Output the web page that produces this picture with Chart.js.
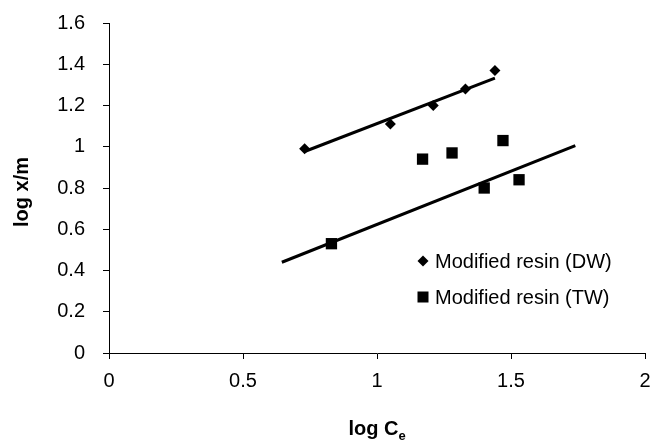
<!DOCTYPE html>
<html>
<head>
<meta charset="utf-8">
<script src="https://cdn.jsdelivr.net/npm/chart.js@4/dist/chart.umd.min.js"></script>
<style>
  html, body { margin: 0; padding: 0; background: #fff; }
  #wrap { width: 653px; height: 448px; position: relative; }
</style>
</head>
<body>
<div id="wrap"><canvas id="chart" width="653" height="448"></canvas></div>
<script>
// Values
const dwX = [0.73, 1.05, 1.21, 1.33, 1.44];
const dwY = [0.99, 1.11, 1.20, 1.28, 1.37];
const twX = [0.83, 1.17, 1.28, 1.40, 1.47, 1.53];
const twY = [0.53, 0.94, 0.97, 0.80, 1.03, 0.84];

// trend line end points
const dwFitX = [0.73, 1.44];
const dwFitY = [0.977, 1.333];
const twFitX = [0.645, 1.74];
const twFitY = [0.44, 1.005];

const xTicks = [0, 0.5, 1, 1.5, 2];
const yTicks = [0, 0.2, 0.4, 0.6, 0.8, 1, 1.2, 1.4, 1.6];

const seriesNames = ["Modified resin (DW)", "Modified resin (TW)"];

const FONT = "'Liberation Sans', Arial, sans-serif";

function toPoints(xs, ys) {
    return xs.map((x, i) => ({ x: x, y: ys[i] }));
}

// Legend sits inside the plot area, like the original
const legendPlugin = {
    id: "innerLegend",
    afterDatasetsDraw(chart) {
        const ctx = chart.ctx;
        ctx.save();
        ctx.fillStyle = "#000";
        ctx.font = "20px " + FONT;
        ctx.textBaseline = "middle";
        ctx.textAlign = "left";

        // diamond
        let mx = 423, my = 261;
        ctx.beginPath();
        ctx.moveTo(mx - 5.5, my);
        ctx.lineTo(mx, my - 5.5);
        ctx.lineTo(mx + 5.5, my);
        ctx.lineTo(mx, my + 5.5);
        ctx.closePath();
        ctx.fill();
        ctx.fillText(seriesNames[0], 435, my + 1);

        // square
        my = 297;
        ctx.fillRect(mx - 5.5, my - 5.5, 11, 11);
        ctx.fillText(seriesNames[1], 435, my + 1);
        ctx.restore();
    }
};

// Axis titles (x title needs a subscript e)
const titlePlugin = {
    id: "axisTitles",
    afterDraw(chart) {
        const ctx = chart.ctx;
        const area = chart.chartArea;
        ctx.save();
        ctx.fillStyle = "#000";
        ctx.textBaseline = "alphabetic";

        const main = "log C";
        ctx.font = "bold 20px " + FONT;
        const w1 = ctx.measureText(main).width;
        ctx.font = "bold 13px " + FONT;
        const w2 = ctx.measureText("e").width;
        const cx = (area.left + area.right) / 2;
        const x0 = cx - (w1 + w2) / 2;
        ctx.font = "bold 20px " + FONT;
        ctx.fillText(main, x0, 435);
        ctx.font = "bold 13px " + FONT;
        ctx.fillText("e", x0 + w1, 440);

        ctx.translate(22, 192);
        ctx.rotate(-Math.PI / 2);
        ctx.font = "bold 20px " + FONT;
        ctx.textAlign = "center";
        ctx.textBaseline = "middle";
        ctx.fillText("log x/m", 0, 0);
        ctx.restore();
    }
};

const ctx = document.getElementById("chart");

new Chart(ctx, {
    type: "scatter",
    data: {
        datasets: [
            {
                label: seriesNames[0],
                data: toPoints(dwX, dwY),
                pointStyle: "rectRot",
                pointRadius: 5.5,
                backgroundColor: "#000",
                borderColor: "#000",
                borderWidth: 0
            },
            {
                label: seriesNames[1],
                data: toPoints(twX, twY),
                pointStyle: "rect",
                pointRadius: 8,
                backgroundColor: "#000",
                borderColor: "#000",
                borderWidth: 0
            },
            {
                label: "DW fit",
                type: "line",
                data: toPoints(dwFitX, dwFitY),
                showLine: true,
                pointRadius: 0,
                borderColor: "#000",
                borderWidth: 3,
                fill: false
            },
            {
                label: "TW fit",
                type: "line",
                data: toPoints(twFitX, twFitY),
                showLine: true,
                pointRadius: 0,
                borderColor: "#000",
                borderWidth: 3,
                fill: false
            }
        ]
    },
    options: {
        responsive: false,
        animation: false,
        layout: { padding: { left: 0, right: 6, top: 23, bottom: 0 } },
        plugins: { legend: { display: false }, tooltip: { enabled: false } },
        scales: {
            x: {
                type: "linear",
                min: 0,
                max: 2,
                afterBuildTicks: (s) => { s.ticks = xTicks.map(v => ({ value: v })); },
                afterFit: (s) => { s.height = 95; s.paddingLeft = 0; s.paddingRight = 0; },
                grid: { drawOnChartArea: false, drawTicks: true, tickLength: 6, color: "#000" },
                border: { display: true, color: "#000", width: 1 },
                ticks: {
                    color: "#000",
                    padding: 10,
                    maxRotation: 0,
                    font: { family: FONT, size: 20 },
                    callback: (v) => String(v)
                }
            },
            y: {
                type: "linear",
                min: 0,
                max: 1.6,
                afterBuildTicks: (s) => { s.ticks = yTicks.map(v => ({ value: v })); },
                afterFit: (s) => { s.width = 109; s.paddingTop = 0; s.paddingBottom = 0; },
                grid: { drawOnChartArea: false, drawTicks: true, tickLength: 6, color: "#000" },
                border: { display: true, color: "#000", width: 1 },
                ticks: {
                    color: "#000",
                    padding: 18,
                    font: { family: FONT, size: 20 },
                    callback: (v) => String(Math.round(v * 10) / 10)
                }
            }
        }
    },
    plugins: [legendPlugin, titlePlugin]
});
</script>
</body>
</html>
